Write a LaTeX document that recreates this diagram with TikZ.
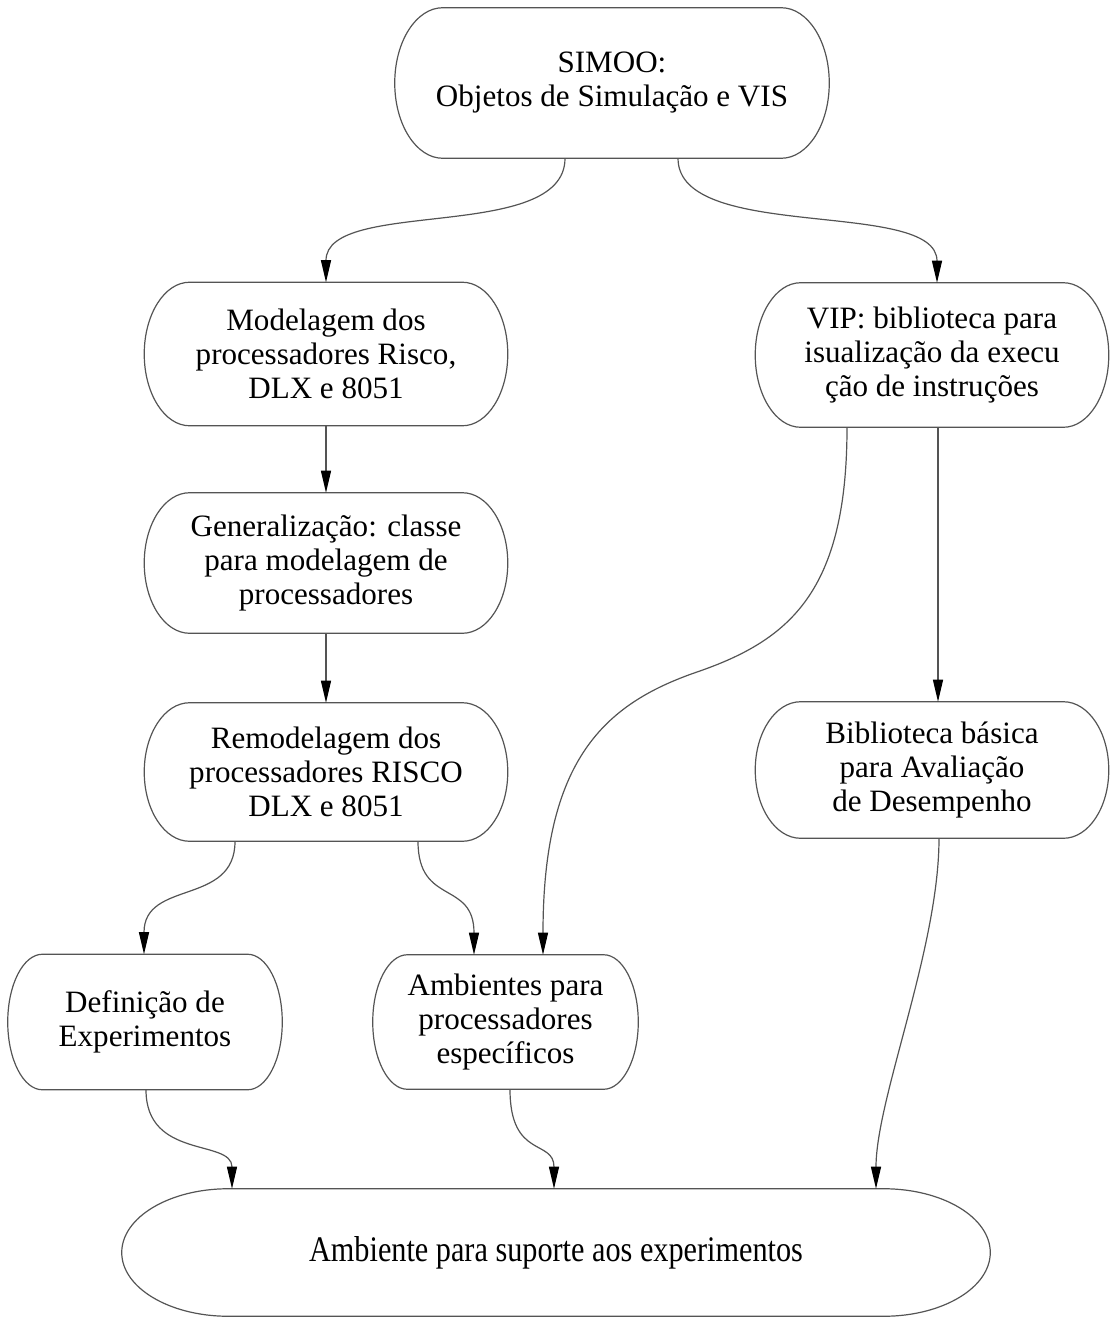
\documentclass[tikz,border=0pt]{standalone}
\usepackage{fontspec}
\usepackage{graphicx}
\setmainfont{Liberation Serif}
\usetikzlibrary{arrows.meta,calc}

\definecolor{ink}{gray}{0.33}

% Outline of a box with straight top and bottom edges and elliptical ends.
% #1 = node name, #2 = horizontal radius of the end arcs
\newcommand\pillframe[2]{%
  \draw[frame] let \p1=(#1.north west), \p2=(#1.south east), \n1={(\y1-\y2)/2} in
    (\x1+#2,\y1) -- (\x2-#2,\y1)
    arc[start angle=90, end angle=-90, x radius=#2, y radius={\n1*1pt}]
    -- (\x1+#2,\y2)
    arc[start angle=270, end angle=90, x radius=#2, y radius={\n1*1pt}] -- cycle;}

\begin{document}
\begin{tikzpicture}[
  x=0.75pt, y=-0.75pt,
  box/.style 2 args={align=center, inner sep=0pt,
    minimum width={#1*0.75pt}, minimum height={#2*0.75pt},
    font=\fontsize{23.3}{25.5}\selectfont},
  frame/.style={draw=ink, line width=0.9pt},
  link/.style={draw=ink, line width=0.9pt,
    -{Triangle[length=16.5pt, width=7.5pt, color=black]}}
]
\path[use as bounding box] (0,0) rectangle (1110,1324);

% boxes
\node[box={434}{150}] (simoo) at (612,83)   {SIMOO:\\Objetos de Simulação e VIS};
\node[box={363}{143}] (model) at (326,354)  {Modelagem dos\\processadores Risco,\\DLX e 8051};
\node[box={353}{144}] (vip)   at (932,355)  {VIP: biblioteca para\\isualização da execu\\ção de instruções};
\node[box={363}{140}] (gen)   at (326,563)  {Generalização: classe\\para modelagem de\\processadores};
\node[box={363}{138}] (remod) at (326,772)  {Remodelagem dos\\processadores RISCO\\DLX e 8051};
\node[box={353}{136}] (bib)   at (932,770)  {Biblioteca básica\\para Avaliação\\de Desempenho};
\node[box={274}{135}] (def)   at (145,1022) {Definição de\\Experimentos};
\node[box={265}{134}] (amb)   at (505.5,1022){Ambientes para\\processadores\\específicos};
\node[box={868}{127}] (sup)   at (556,1252.5){\scalebox{0.84}[1]{\fontsize{27}{29}\selectfont Ambiente para suporte aos experimentos}};

\pillframe{simoo}{36pt}
\pillframe{model}{34pt}
\pillframe{vip}{34pt}
\pillframe{gen}{34pt}
\pillframe{remod}{34pt}
\pillframe{bib}{34pt}
\pillframe{def}{26pt}
\pillframe{amb}{26pt}
\pillframe{sup}{80pt}

% connectors
\draw[link] ($(simoo.south)+(-47,0)$) .. controls +(0,85) and +(0,-85) .. (model.north);
\draw[link] ($(simoo.south)+(66,0)$) .. controls +(0,85) and +(0,-85) .. ($(vip.north)+(5,0)$);
\draw[link] (model.south) -- (gen.north);
\draw[link] (gen.south) -- (remod.north);
\draw[link] ($(vip.south)+(6,0)$) -- ($(bib.north)+(6,0)$);
\coordinate (bend) at (697,672);
\draw[link] ($(vip.south)+(-85,0)$) .. controls +(0,164) and (790,640) .. (bend)
  .. controls (604,704) and (543,760) .. ($(amb.north)+(37.5,0)$);
\draw[link] ($(remod.south)+(-91,0)$) .. controls +(0,65) and +(0,-75) .. ($(def.north)+(-1,0)$);
\draw[link] ($(remod.south)+(92,0)$) .. controls +(0,65) and +(0,-75) .. ($(amb.north)+(-31.5,0)$);
\draw[link] ($(def.south)+(1,0)$) .. controls +(0,70) and +(0,-50) .. ($(sup.north)+(-324,0)$);
\draw[link] ($(amb.south)+(4.5,0)$) .. controls +(0,70) and +(0,-50) .. ($(sup.north)+(-2,0)$);
\draw[link] ($(bib.south)+(7,0)$) .. controls +(0,110) and +(0,-90) .. ($(sup.north)+(320,0)$);
\end{tikzpicture}
\end{document}
